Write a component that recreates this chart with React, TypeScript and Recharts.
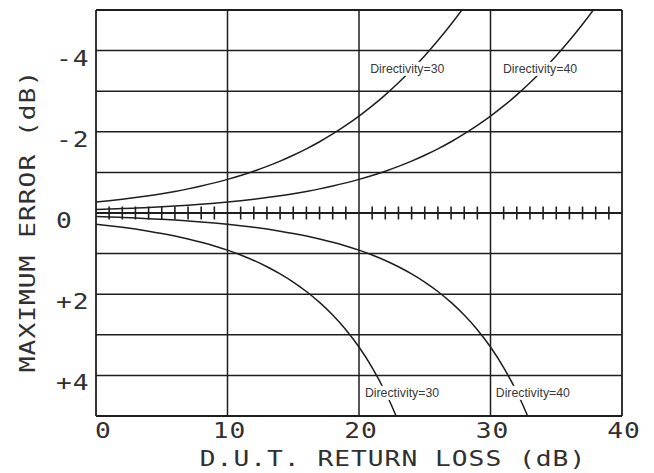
import { ComposedChart, Line, XAxis, YAxis, ReferenceLine, ReferenceDot } from "recharts"

const returnLoss = [
  0, 1, 2, 3, 4, 5, 6, 7, 8, 9, 10, 11, 12, 13, 14, 15, 16, 17, 18, 19, 20,
  21, 22, 23, 24, 25, 26, 27, 28, 29, 30, 31, 32, 33, 34, 35, 36, 37, 38, 39, 40,
]

// maximum error in dB (negative = upper half of the plot)
const d30Upper = [
  -0.27, -0.303, -0.339, -0.38, -0.425, -0.475, -0.532, -0.594, -0.664, -0.742, -0.828,
  -0.924, -1.03, -1.148, -1.278, -1.422, -1.58, -1.755, -1.947, -2.157, -2.386,
  -2.637, -2.911, -3.208, -3.529, -3.875, -4.249, -4.649, -5.078, -5.535, null,
  null, null, null, null, null, null, null, null, null, null,
]
const d30Lower = [
  0.279, 0.314, 0.353, 0.397, 0.447, 0.503, 0.566, 0.638, 0.719, 0.811, 0.915,
  1.034, 1.169, 1.323, 1.499, 1.7, 1.933, 2.202, 2.513, 2.875, 3.301,
  3.806, 4.41, 5.141, 6.042, null, null, null, null, null, null,
  null, null, null, null, null, null, null, null, null, null,
]
const d40Upper = [
  -0.086, -0.097, -0.109, -0.122, -0.137, -0.153, -0.172, -0.192, -0.216, -0.241, -0.27,
  -0.303, -0.339, -0.38, -0.425, -0.475, -0.532, -0.594, -0.664, -0.742, -0.828,
  -0.924, -1.03, -1.148, -1.278, -1.422, -1.58, -1.755, -1.947, -2.157, -2.386,
  -2.637, -2.911, -3.208, -3.529, -3.875, -4.249, -4.649, -5.078, -5.535, null,
]
const d40Lower = [
  0.087, 0.098, 0.11, 0.124, 0.139, 0.156, 0.175, 0.197, 0.221, 0.248, 0.279,
  0.314, 0.353, 0.397, 0.447, 0.503, 0.566, 0.638, 0.719, 0.811, 0.915,
  1.034, 1.169, 1.323, 1.499, 1.7, 1.933, 2.202, 2.513, 2.875, 3.301,
  3.806, 4.41, 5.141, 6.042, null, null, null, null, null, null,
]

const xTicks = [0, 10, 20, 30, 40]
const yTicks = [-4, -2, 0, 2, 4]
const hGrid = [-4, -3, -2, -1, 1, 2, 3, 4]
const vGrid = [10, 20, 30]
const zeroTicks = [
  1, 2, 3, 4, 5, 6, 7, 8, 9, 11, 12, 13, 14, 15, 16, 17, 18, 19,
  21, 22, 23, 24, 25, 26, 27, 28, 29, 31, 32, 33, 34, 35, 36, 37, 38, 39,
]
const notes = [
  { x: 20.85, y: -3.55, text: "Directivity=30" },
  { x: 30.95, y: -3.55, text: "Directivity=40" },
  { x: 20.45, y: 4.43, text: "Directivity=30" },
  { x: 30.4, y: 4.43, text: "Directivity=40" },
]

const data = returnLoss.map((rl, i) => ({
  rl,
  d30Upper: d30Upper[i],
  d30Lower: d30Lower[i],
  d40Upper: d40Upper[i],
  d40Lower: d40Lower[i],
}))

const ink = "#1e1e1e"
const plotter = {
  fontFamily: "DejaVu Sans Mono",
  fontSize: 21,
  letterSpacing: 0.8,
  fill: "#303030",
}

function XTick({ x, y, payload }: any) {
  const v = payload.value
  const tx = v === 0 ? x - 1 : x + 2
  return (
    <text
      {...plotter}
      textAnchor={v === 0 ? "start" : "middle"}
      transform={`translate(${tx},${y + 14}) scale(1.25,1)`}
    >
      {String(v)}
    </text>
  )
}

function YTick({ y, payload }: any) {
  const v = payload.value
  const label = v > 0 ? `+${v}` : String(v)
  return (
    <text {...plotter} textAnchor="start" transform={`translate(56,${y + 15}) scale(1.25,1)`}>
      {label}
    </text>
  )
}

function Note({ cx, cy, text }: any) {
  return (
    <g>
      <rect x={cx - 3} y={cy - 7} width={82} height={14} fill="#fff" />
      <text
        x={cx}
        y={cy + 4}
        fontFamily="Liberation Sans"
        fontSize={12.3}
        fill="#3a3a3a"
      >
        {text}
      </text>
    </g>
  )
}

export default function App() {
  return (
    <div style={{ position: "absolute", left: 0, top: 0, background: "#fff" }}>
      <ComposedChart
        width={654}
        height={473}
        data={data}
        margin={{ top: 10, right: 32, left: 36, bottom: 17 }}
      >
        <XAxis
          dataKey="rl"
          type="number"
          domain={[0, 40]}
          ticks={xTicks}
          allowDataOverflow
          axisLine={false}
          tickLine={false}
          height={40}
          tick={<XTick />}
          label={() => (
            <text {...plotter} textAnchor="middle" transform="translate(393,466) scale(1.25,1)">
              D.U.T. RETURN LOSS (dB)
            </text>
          )}
        />
        <YAxis
          type="number"
          domain={[-5, 5]}
          reversed
          ticks={yTicks}
          allowDataOverflow
          axisLine={false}
          tickLine={false}
          width={60}
          tick={<YTick />}
          label={() => (
            <text
              {...plotter}
              textAnchor="middle"
              transform="translate(35,221) rotate(-90) scale(1.25,1)"
            >
              MAXIMUM ERROR (dB)
            </text>
          )}
        />
        {hGrid.map((v) => (
          <ReferenceLine key={"h" + v} y={v} stroke={ink} strokeWidth={1.5} />
        ))}
        {vGrid.map((v) => (
          <ReferenceLine key={"v" + v} x={v} stroke={ink} strokeWidth={1.5} />
        ))}
        <ReferenceLine x={0} stroke={ink} strokeWidth={1.8} />
        <ReferenceLine x={40} stroke={ink} strokeWidth={1.8} />
        <ReferenceLine y={-5} stroke={ink} strokeWidth={1.8} />
        <ReferenceLine y={5} stroke={ink} strokeWidth={1.8} />
        <ReferenceLine y={0} stroke={ink} strokeWidth={2} />
        {zeroTicks.map((t) => (
          <ReferenceLine
            key={"t" + t}
            segment={[
              { x: t, y: -0.16 },
              { x: t, y: 0.16 },
            ]}
            stroke={ink}
            strokeWidth={1.6}
          />
        ))}
        <Line dataKey="d30Upper" type="monotone" stroke={ink} strokeWidth={1.5} dot={false} isAnimationActive={false} />
        <Line dataKey="d30Lower" type="monotone" stroke={ink} strokeWidth={1.5} dot={false} isAnimationActive={false} />
        <Line dataKey="d40Upper" type="monotone" stroke={ink} strokeWidth={1.5} dot={false} isAnimationActive={false} />
        <Line dataKey="d40Lower" type="monotone" stroke={ink} strokeWidth={1.5} dot={false} isAnimationActive={false} />
        {notes.map((n, i) => (
          <ReferenceDot
            key={"n" + i}
            x={n.x}
            y={n.y}
            r={0}
            shape={(p: any) => <Note cx={p.cx} cy={p.cy} text={n.text} />}
          />
        ))}
      </ComposedChart>
    </div>
  )
}
